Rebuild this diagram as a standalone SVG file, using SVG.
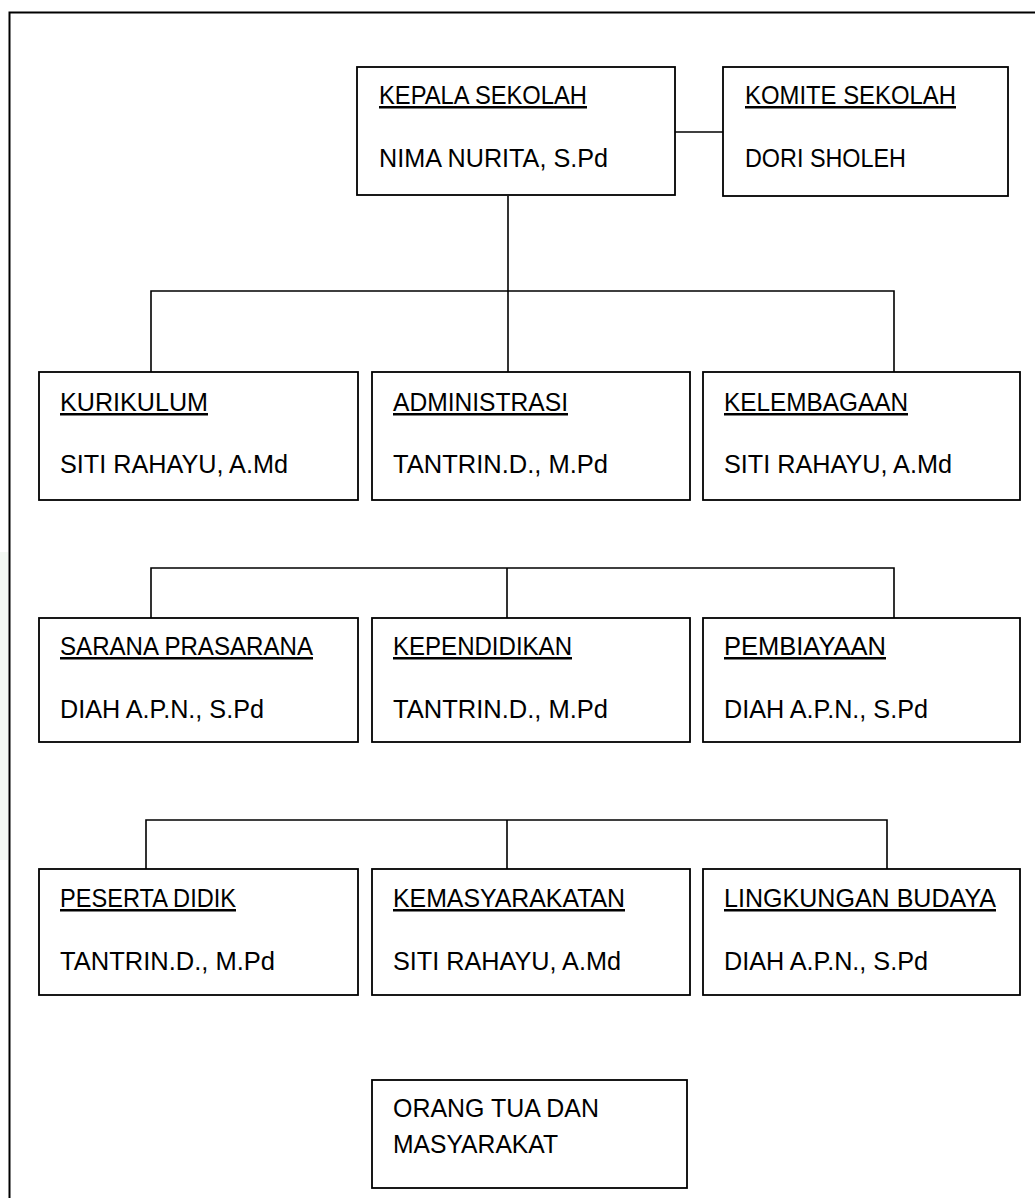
<svg xmlns="http://www.w3.org/2000/svg" width="1035" height="1198" viewBox="0 0 1035 1198">
<style>
.box{fill:#fff;stroke:#000;stroke-width:1.8}
.ln{fill:none;stroke:#000;stroke-width:1.6}
text{font-family:"Liberation Sans",Arial,sans-serif;font-size:25px;fill:#000}
.t{text-decoration:underline}
</style>
<rect x="0" y="0" width="1035" height="1198" fill="#fff"/>
<path d="M0,552 H8 V860 H0 Z" fill="#f3f8f3"/>
<path d="M9.5,1200 V12.5 H1040" fill="none" stroke="#000" stroke-width="2"/>
<g id="connectors">
<path class="ln" d="M675,132 H723"/>
<path class="ln" d="M508,196 V372"/>
<path class="ln" d="M151,372 V291 H894 V372"/>
<path class="ln" d="M151,618 V568 H894 V618 M507,568 V618"/>
<path class="ln" d="M146,869 V820 H887 V869 M507,820 V869"/>
</g>
<g id="kepala"><rect class="box" x="357" y="67" width="318" height="128"/><text class="t" x="379" y="104" textLength="208" lengthAdjust="spacingAndGlyphs">KEPALA SEKOLAH</text><text x="379" y="167" textLength="229" lengthAdjust="spacingAndGlyphs">NIMA NURITA, S.Pd</text></g>
<g id="komite"><rect class="box" x="723" y="67" width="285" height="129"/><text class="t" x="745" y="104" textLength="211" lengthAdjust="spacingAndGlyphs">KOMITE SEKOLAH</text><text x="745" y="167" textLength="161" lengthAdjust="spacingAndGlyphs">DORI SHOLEH</text></g>
<g id="kurikulum"><rect class="box" x="39" y="372" width="319" height="128"/><text class="t" x="60" y="411" textLength="148" lengthAdjust="spacingAndGlyphs">KURIKULUM</text><text x="60" y="473" textLength="228" lengthAdjust="spacingAndGlyphs">SITI RAHAYU, A.Md</text></g>
<g id="administrasi"><rect class="box" x="372" y="372" width="318" height="128"/><text class="t" x="393" y="411" textLength="175" lengthAdjust="spacingAndGlyphs">ADMINISTRASI</text><text x="393" y="473" textLength="215" lengthAdjust="spacingAndGlyphs">TANTRIN.D., M.Pd</text></g>
<g id="kelembagaan"><rect class="box" x="703" y="372" width="317" height="128"/><text class="t" x="724" y="411" textLength="184" lengthAdjust="spacingAndGlyphs">KELEMBAGAAN</text><text x="724" y="473" textLength="228" lengthAdjust="spacingAndGlyphs">SITI RAHAYU, A.Md</text></g>
<g id="sarana"><rect class="box" x="39" y="618" width="319" height="124"/><text class="t" x="60" y="655" textLength="253" lengthAdjust="spacingAndGlyphs">SARANA PRASARANA</text><text x="60" y="718" textLength="204" lengthAdjust="spacingAndGlyphs">DIAH A.P.N., S.Pd</text></g>
<g id="kependidikan"><rect class="box" x="372" y="618" width="318" height="124"/><text class="t" x="393" y="655" textLength="179" lengthAdjust="spacingAndGlyphs">KEPENDIDIKAN</text><text x="393" y="718" textLength="215" lengthAdjust="spacingAndGlyphs">TANTRIN.D., M.Pd</text></g>
<g id="pembiayaan"><rect class="box" x="703" y="618" width="317" height="124"/><text class="t" x="724" y="655" textLength="162" lengthAdjust="spacingAndGlyphs">PEMBIAYAAN</text><text x="724" y="718" textLength="204" lengthAdjust="spacingAndGlyphs">DIAH A.P.N., S.Pd</text></g>
<g id="peserta"><rect class="box" x="39" y="869" width="319" height="126"/><text class="t" x="60" y="907" textLength="176" lengthAdjust="spacingAndGlyphs">PESERTA DIDIK</text><text x="60" y="970" textLength="215" lengthAdjust="spacingAndGlyphs">TANTRIN.D., M.Pd</text></g>
<g id="kemasyarakatan"><rect class="box" x="372" y="869" width="318" height="126"/><text class="t" x="393" y="907" textLength="232" lengthAdjust="spacingAndGlyphs">KEMASYARAKATAN</text><text x="393" y="970" textLength="228" lengthAdjust="spacingAndGlyphs">SITI RAHAYU, A.Md</text></g>
<g id="lingkungan"><rect class="box" x="703" y="869" width="317" height="126"/><text class="t" x="724" y="907" textLength="272" lengthAdjust="spacingAndGlyphs">LINGKUNGAN BUDAYA</text><text x="724" y="970" textLength="204" lengthAdjust="spacingAndGlyphs">DIAH A.P.N., S.Pd</text></g>
<g id="orangtua"><rect class="box" x="372" y="1080" width="315" height="108"/><text x="393" y="1117" textLength="206" lengthAdjust="spacingAndGlyphs">ORANG TUA DAN</text><text x="393" y="1153" textLength="165" lengthAdjust="spacingAndGlyphs">MASYARAKAT</text></g>
</svg>
